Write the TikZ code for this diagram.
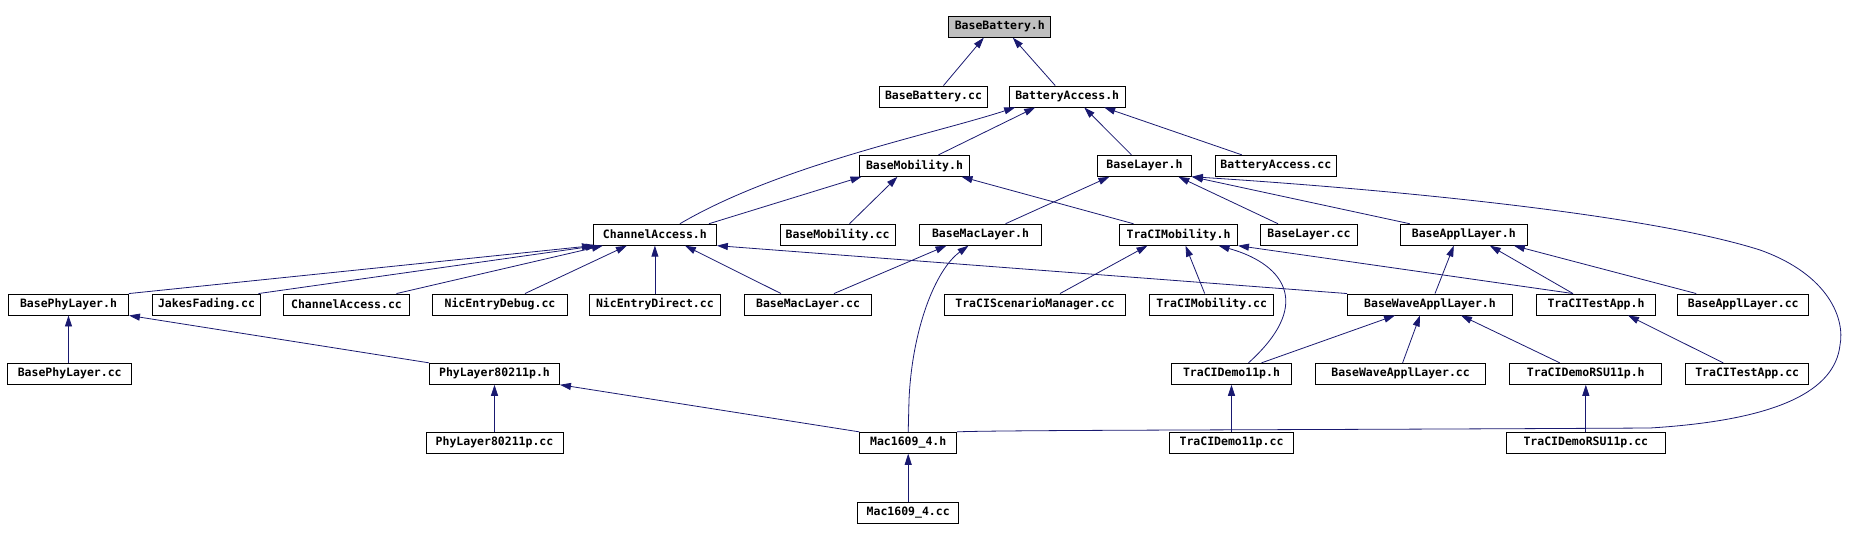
\documentclass[tikz,border=0pt]{standalone}
\usepackage{fontspec}
\newfontfamily\dxfont{DejaVu Sans Mono}
\usepackage{tikz}
\usetikzlibrary{arrows.meta}
\definecolor{edgeblue}{HTML}{191970}

\begin{document}
\begin{tikzpicture}[
  x=1pt, y=-1pt,
  every node/.style={font=\dxfont\bfseries\fontsize{11.5}{12}\selectfont},
  file/.style={rectangle, draw=black, line width=0.9pt, fill=white, minimum height=21pt, inner sep=0pt},
  current/.style={file, fill=black!25},
  dep/.style={{Triangle[length=11pt,width=7pt]}-, draw=edgeblue, line width=0.8pt}
]
\useasboundingbox (0,0) rectangle (1864,540);

% Include graph rows
\node[current, minimum width=102pt] (bbh) at (999.8,26.7) {BaseBattery.h};

\node[file, minimum width=108pt] (bbcc) at (933.5,96.5) {BaseBattery.cc};
\node[file, minimum width=116pt] (bah) at (1067.2,96.5) {BatteryAccess.h};

\node[file, minimum width=110pt] (bmh) at (914.5,165.8) {BaseMobility.h};
\node[file, minimum width=94pt] (blh) at (1144.4,165.8) {BaseLayer.h};
\node[file, minimum width=121pt] (bacc) at (1275.8,165.8) {BatteryAccess.cc};

\node[file, minimum width=123pt] (cah) at (654.9,234.7) {ChannelAccess.h};
\node[file, minimum width=115pt] (bmcc) at (837.5,234.7) {BaseMobility.cc};
\node[file, minimum width=122pt] (bmlh) at (980.5,234.7) {BaseMacLayer.h};
\node[file, minimum width=118pt] (tmh) at (1178.5,234.7) {TraCIMobility.h};
\node[file, minimum width=97pt] (blcc) at (1309,234.7) {BaseLayer.cc};
\node[file, minimum width=127pt] (balh) at (1463.8,234.7) {BaseApplLayer.h};

\node[file, minimum width=120pt] (bplh) at (68.5,304.5) {BasePhyLayer.h};
\node[file, minimum width=108pt] (jfcc) at (206.5,304.5) {JakesFading.cc};
\node[file, minimum width=126pt] (cacc) at (346.5,304.5) {ChannelAccess.cc};
\node[file, minimum width=135pt] (nedbg) at (500,304.5) {NicEntryDebug.cc};
\node[file, minimum width=131pt] (nedir) at (654.9,304.5) {NicEntryDirect.cc};
\node[file, minimum width=127pt] (bmlcc) at (808,304.5) {BaseMacLayer.cc};
\node[file, minimum width=181pt] (tsmcc) at (1035,304.5) {TraCIScenarioManager.cc};
\node[file, minimum width=124pt] (tmcc) at (1211.7,304.5) {TraCIMobility.cc};
\node[file, minimum width=165pt] (bwalh) at (1430,304.5) {BaseWaveApplLayer.h};
\node[file, minimum width=119pt] (ttah) at (1596,304.5) {TraCITestApp.h};
\node[file, minimum width=131pt] (balcc) at (1743.2,304.5) {BaseApplLayer.cc};

\node[file, minimum width=124pt] (bplcc) at (69.7,373.8) {BasePhyLayer.cc};
\node[file, minimum width=130pt] (phyh) at (494.5,373.8) {PhyLayer80211p.h};
\node[file, minimum width=120pt] (tdh) at (1231.5,373.8) {TraCIDemo11p.h};
\node[file, minimum width=170pt] (bwalcc) at (1400.6,373.8) {BaseWaveApplLayer.cc};
\node[file, minimum width=152pt] (trsuh) at (1585.8,373.8) {TraCIDemoRSU11p.h};
\node[file, minimum width=123pt] (ttacc) at (1747.2,373.8) {TraCITestApp.cc};

\node[file, minimum width=137pt] (phycc) at (494.5,442.8) {PhyLayer80211p.cc};
\node[file, minimum width=97pt] (mach) at (908.2,442.8) {Mac1609\_4.h};
\node[file, minimum width=124pt] (tdcc) at (1231.5,442.8) {TraCIDemo11p.cc};
\node[file, minimum width=159pt] (trsucc) at (1585.8,442.8) {TraCIDemoRSU11p.cc};

\node[file, minimum width=101pt] (maccc) at (908.2,512.5) {Mac1609\_4.cc};

% BaseBattery.h
\draw[dep] ([xshift=-16pt]bbh.south) -- ([xshift=10pt]bbcc.north);
\draw[dep] ([xshift=13pt]bbh.south) -- ([xshift=-12pt]bah.north);

% BatteryAccess.h
\draw[dep] ([xshift=-52pt]bah.south) .. controls (930,135) and (780,165) .. ([xshift=25pt]cah.north);
\draw[dep] ([xshift=-32pt]bah.south) -- ([xshift=24pt]bmh.north);
\draw[dep] ([xshift=17pt]bah.south) -- ([xshift=-13pt]blh.north);
\draw[dep] ([xshift=37pt]bah.south) -- ([xshift=-34pt]bacc.north);

% BaseMobility.h
\draw[dep] ([xshift=-53pt]bmh.south) -- ([xshift=54pt]cah.north);
\draw[dep] ([xshift=-17pt]bmh.south) -- ([xshift=12pt]bmcc.north);
\draw[dep] ([xshift=47pt]bmh.south) -- ([xshift=-45pt]tmh.north);

% BaseLayer.h
\draw[dep] ([xshift=-35pt]blh.south) -- ([xshift=25pt]bmlh.north);
\draw[dep] ([xshift=34pt]blh.south) -- ([xshift=-31pt]blcc.north);
\draw[dep] (blh.south east) -- ([xshift=-54pt]balh.north);
\draw[dep] (blh.south east) .. controls (1400,190) and (1650,215) .. (1760,250)
  .. controls (1830,275) and (1845,320) .. (1840,345)
  .. controls (1835,390) and (1780,420) .. (1650,428)
  .. controls (1300,430) and (1000,430) .. (mach.north east);

% ChannelAccess.h
\draw[dep] (cah.south west) -- (bplh.north east);
\draw[dep] ([xshift=-58pt]cah.south) -- ([xshift=52pt]jfcc.north);
\draw[dep] ([xshift=-52pt]cah.south) -- ([xshift=50pt]cacc.north);
\draw[dep] ([xshift=-28pt]cah.south) -- ([xshift=25pt]nedbg.north);
\draw[dep] (cah.south) -- (nedir.north);
\draw[dep] ([xshift=30pt]cah.south) -- ([xshift=-27pt]bmlcc.north);
\draw[dep] (cah.south east) -- (bwalh.north west);

% BaseMacLayer.h
\draw[dep] ([xshift=-34pt]bmlh.south) -- ([xshift=26pt]bmlcc.north);
\draw[dep] ([xshift=-12pt]bmlh.south) .. controls (935,270) and (912,330) .. (909,400) -- (mach.north);

% TraCIMobility.h
\draw[dep] ([xshift=-31pt]tmh.south) -- ([xshift=25pt]tsmcc.north);
\draw[dep] ([xshift=7pt]tmh.south) -- ([xshift=-7pt]tmcc.north);
\draw[dep] ([xshift=40pt]tmh.south) .. controls (1278,262) and (1318,300) .. ([xshift=17pt]tdh.north);
\draw[dep] (tmh.south east) -- ([xshift=-23pt]ttah.north);

% BaseApplLayer.h
\draw[dep] ([xshift=-10pt]balh.south) -- ([xshift=5pt]bwalh.north);
\draw[dep] ([xshift=26pt]balh.south) -- ([xshift=-23pt]ttah.north);
\draw[dep] ([xshift=50pt]balh.south) -- ([xshift=-47pt]balcc.north);

% lower rows
\draw[dep] (bplh.south) -- (bplh.south |- bplcc.north);
\draw[dep] (bplh.south east) -- (phyh.north west);
\draw[dep] ([xshift=-35pt]bwalh.south) -- ([xshift=30pt]tdh.north);
\draw[dep] ([xshift=-10pt]bwalh.south) -- ([xshift=2pt]bwalcc.north);
\draw[dep] ([xshift=31pt]bwalh.south) -- ([xshift=-26pt]trsuh.north);
\draw[dep] ([xshift=32pt]ttah.south) -- ([xshift=-24pt]ttacc.north);
\draw[dep] (phyh.south) -- (phycc.north);
\draw[dep] (phyh.south east) -- (mach.north west);
\draw[dep] (tdh.south) -- (tdcc.north);
\draw[dep] (trsuh.south) -- (trsucc.north);
\draw[dep] (mach.south) -- (maccc.north);

\end{tikzpicture}
\end{document}
